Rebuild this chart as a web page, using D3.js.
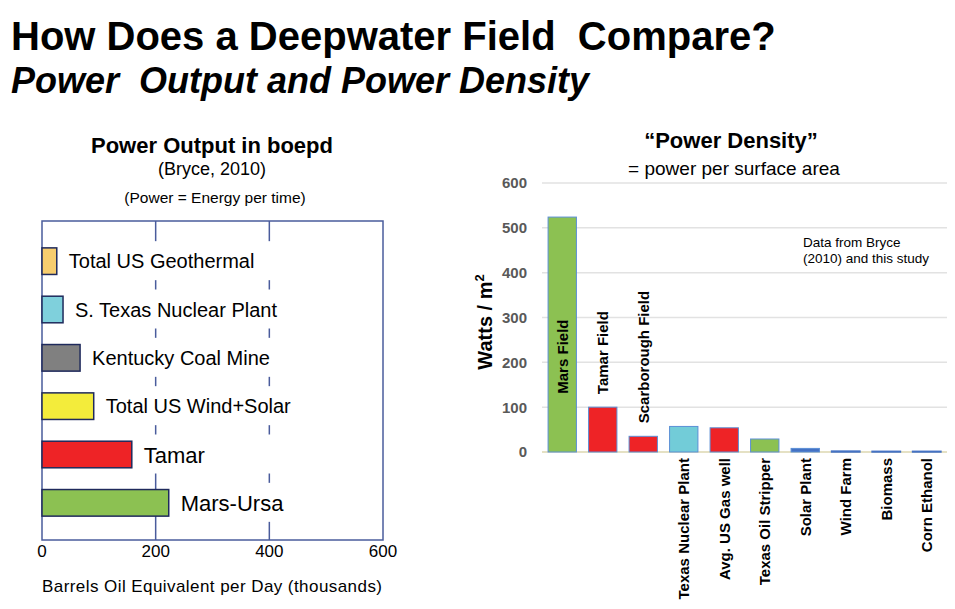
<!DOCTYPE html>
<html>
<head>
<meta charset="utf-8">
<script src="https://cdn.jsdelivr.net/npm/d3@7"></script>
<style>
  body { margin: 0; background: #fff; }
  svg { font-family: "Liberation Sans", Arial, sans-serif; }
</style>
</head>
<body>
<div id="chart"></div>
<script>

// ---- data ----
// left: power output (thousand boe per day)
const outputNames = ["Total US Geothermal", "S. Texas Nuclear Plant", "Kentucky Coal Mine",
	"Total US Wind+Solar", "Tamar", "Mars-Ursa"];
const outputValues = [26, 37, 67, 91, 158, 223];
const outputColors = ["#f7cd6e", "#7fd0dc", "#808080", "#f3ec3b", "#ee2326", "#8cc152"];
const outputTicks = [0, 200, 400, 600];

// right: power density (W / m2)
const densityNames = ["Mars Field", "Tamar Field", "Scarborough Field", "Texas Nuclear Plant",
	"Avg. US Gas well", "Texas Oil Stripper", "Solar Plant", "Wind Farm", "Biomass", "Corn Ethanol"];
const densityValues = [524, 100, 35, 57, 54, 29, 8, 2, 1.5, 1.5];
const densityColors = ["#8cc152", "#ee2326", "#ee2326", "#72ccd8", "#ee2326", "#8cc152",
	"#4472c4", "#4472c4", "#4472c4", "#4472c4"];
const densityTicks = [0, 100, 200, 300, 400, 500, 600];
const labelledAbove = ["Mars Field", "Tamar Field", "Scarborough Field"];


const W = 955, H = 609;
const svg = d3.select("#chart").append("svg")
	.attr("width", W)
	.attr("height", H);

// titles
svg.append("text")
	.attr("x", 11).attr("y", 50)
	.attr("font-size", 40).attr("font-weight", "bold")
	.style("white-space", "pre")
	.text("How Does a Deepwater Field  Compare?");

svg.append("text")
	.attr("x", 11).attr("y", 93)
	.attr("font-size", 36).attr("font-weight", "bold").attr("font-style", "italic")
	.style("white-space", "pre")
	.text("Power  Output and Power Density");


/*
 * Left chart - horizontal bars
 */
let left = svg.append("g");

let xL = d3.scaleLinear()
	.domain([0, 600])
	.range([42, 383]);

let yL = d3.scaleBand()
	.domain(outputNames)
	.range([237, 527])
	.paddingInner(0.45)
	.paddingOuter(0.225);

left.append("text")
	.attr("x", 212).attr("y", 153)
	.attr("text-anchor", "middle")
	.attr("font-size", 22).attr("font-weight", "bold")
	.text("Power Output in boepd");

left.append("text")
	.attr("x", 212).attr("y", 175)
	.attr("text-anchor", "middle")
	.attr("font-size", 18)
	.text("(Bryce, 2010)");

left.append("text")
	.attr("x", 215).attr("y", 203)
	.attr("text-anchor", "middle")
	.attr("font-size", 15.5)
	.text("(Power = Energy per time)");

left.append("rect")
	.attr("x", xL(0)).attr("y", 221)
	.attr("width", xL(600) - xL(0)).attr("height", 540 - 221)
	.attr("fill", "#fff")
	.attr("stroke", "#4a5c9c")
	.attr("stroke-width", 1.5);

left.selectAll("line.grid")
	.data(outputTicks.slice(1, -1))
	.enter()
	.append("line")
	.attr("class", "grid")
	.attr("x1", d => xL(d)).attr("x2", d => xL(d))
	.attr("y1", 221).attr("y2", 540)
	.attr("stroke", "#4a5c9c")
	.attr("stroke-width", 1.5);

let rows = left.selectAll("g.row")
	.data(outputNames)
	.enter()
	.append("g")
	.attr("class", "row");

// label text, sitting on a white box that hides the grid
rows.each(function (d, i) {
	let g = d3.select(this);
	let big = i >= 4;
	let cy = yL(d) + yL.bandwidth() / 2;
	let lx = xL(outputValues[i]) + 12;
	let box = g.append("rect")
		.attr("fill", "#fff");
	let t = g.append("text")
		.attr("x", lx)
		.attr("y", cy + (big ? 8 : 7))
		.attr("font-size", big ? 22 : 20)
		.text(d);
	let tw = t.node().getComputedTextLength();
	box.attr("x", lx - 4)
		.attr("y", cy - 20)
		.attr("height", 39)
		.attr("width", Math.max(tw + 8, xL(400) + 6 - lx));
});

rows.append("rect")
	.attr("x", xL(0))
	.attr("y", d => yL(d))
	.attr("width", (d, i) => xL(outputValues[i]) - xL(0))
	.attr("height", yL.bandwidth())
	.attr("fill", (d, i) => outputColors[i])
	.attr("stroke", "#1f2a5c")
	.attr("stroke-width", 1.5);

left.selectAll("text.xtick")
	.data(outputTicks)
	.enter()
	.append("text")
	.attr("class", "xtick")
	.attr("x", d => xL(d))
	.attr("y", 557)
	.attr("text-anchor", "middle")
	.attr("font-size", 17)
	.text(d => d);

left.append("text")
	.attr("x", 42).attr("y", 592)
	.attr("font-size", 17)
	.attr("textLength", 340)
	.text("Barrels Oil Equivalent per Day (thousands)");


/*
 * Right chart - vertical bars
 */
let right = svg.append("g");

let xR = d3.scaleBand()
	.domain(densityNames)
	.range([542, 947])
	.paddingInner(0.3)
	.paddingOuter(0.15);

let yR = d3.scaleLinear()
	.domain([0, 600])
	.range([452, 183]);

right.append("text")
	.attr("x", 731).attr("y", 148)
	.attr("text-anchor", "middle")
	.attr("font-size", 22).attr("font-weight", "bold")
	.text("\u201CPower Density\u201D");

right.append("text")
	.attr("x", 734).attr("y", 175)
	.attr("text-anchor", "middle")
	.attr("font-size", 19)
	.text("= power per surface area");

right.selectAll("line.grid")
	.data(densityTicks.slice(1))
	.enter()
	.append("line")
	.attr("class", "grid")
	.attr("x1", 542).attr("x2", 947)
	.attr("y1", d => yR(d)).attr("y2", d => yR(d))
	.attr("stroke", "#e2e2e2")
	.attr("stroke-width", 1.5);

right.append("line")
	.attr("x1", 542).attr("x2", 947)
	.attr("y1", yR(0)).attr("y2", yR(0))
	.attr("stroke", "#ddd7b0")
	.attr("stroke-width", 1.5);

right.selectAll("text.ytick")
	.data(densityTicks)
	.enter()
	.append("text")
	.attr("class", "ytick")
	.attr("x", 527)
	.attr("y", d => yR(d))
	.attr("dy", "0.36em")
	.attr("text-anchor", "end")
	.attr("font-size", 15).attr("font-weight", "bold")
	.attr("fill", "#595959")
	.text(d => d);

let ylab = right.append("text")
	.attr("transform", "translate(492,322) rotate(-90)")
	.attr("text-anchor", "middle")
	.attr("font-size", 20).attr("font-weight", "bold");
ylab.append("tspan").text("Watts / m");
ylab.append("tspan").attr("dy", -8).attr("font-size", 13).text("2");

right.selectAll("rect.bar")
	.data(densityNames)
	.enter()
	.append("rect")
	.attr("class", "bar")
	.attr("x", d => xR(d))
	.attr("y", (d, i) => yR(densityValues[i]))
	.attr("width", xR.bandwidth())
	.attr("height", (d, i) => yR(0) - yR(densityValues[i]))
	.attr("fill", (d, i) => densityColors[i])
	.attr("stroke", (d, i) => densityValues[i] < 5 ? "#4472c4" : "#5b8fd6")
	.attr("stroke-width", (d, i) => densityValues[i] < 5 ? 1.5 : 1);

// labels above (or inside) the first bars
right.selectAll("text.toplab")
	.data(densityNames.filter(d => labelledAbove.includes(d)))
	.enter()
	.append("text")
	.attr("class", "toplab")
	.attr("transform", (d, i) => {
		let v = densityValues[densityNames.indexOf(d)];
		let y0 = v > 300 ? yR(130) : yR(v) - 13;
		return "translate(" + (xR(d) + xR.bandwidth() / 2 + 5.5) + "," + y0 + ") rotate(-90)";
	})
	.attr("font-size", 15).attr("font-weight", "bold")
	.text(d => d);

// category labels under the axis
right.selectAll("text.botlab")
	.data(densityNames.filter(d => !labelledAbove.includes(d)))
	.enter()
	.append("text")
	.attr("class", "botlab")
	.attr("transform", d => "translate(" + (xR(d) + xR.bandwidth() / 2 + 5.5) + ",458) rotate(-90)")
	.attr("text-anchor", "end")
	.attr("font-size", 15).attr("font-weight", "bold")
	.text(d => d);

right.append("text")
	.attr("x", 803).attr("y", 247)
	.attr("font-size", 13.5)
	.text("Data from Bryce");
right.append("text")
	.attr("x", 803).attr("y", 263)
	.attr("font-size", 13.5)
	.text("(2010) and this study");

</script>
</body>
</html>
